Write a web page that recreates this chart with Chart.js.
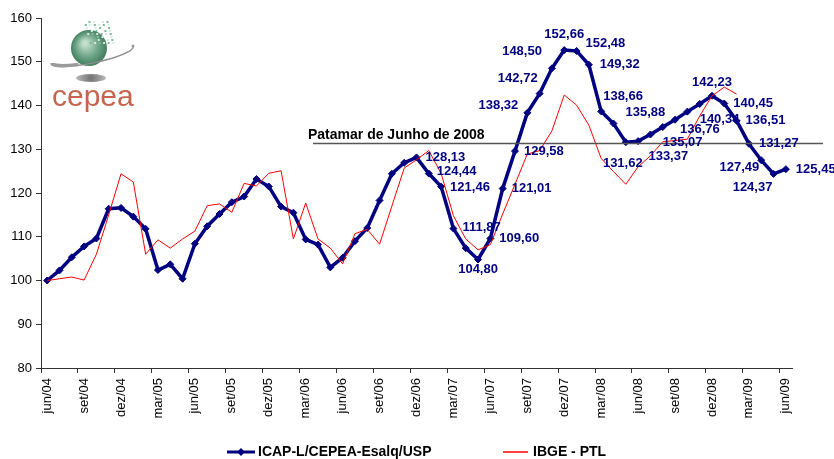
<!DOCTYPE html>
<html>
<head>
<meta charset="utf-8">
<script src="https://cdn.jsdelivr.net/npm/chart.js@4.4.1/dist/chart.umd.min.js"></script>
<style>
html, body { margin: 0; padding: 0; background: #fff; }
</style>
</head>
<body>
<canvas id="chartLeite" width="834" height="459"></canvas>
<script>
// meses jun/04 .. jun/09
var meses = [
	'jun/04', 'jul/04', 'ago/04', 'set/04', 'out/04', 'nov/04', 'dez/04', 'jan/05', 'fev/05', 'mar/05', 'abr/05', 'mai/05',
	'jun/05', 'jul/05', 'ago/05', 'set/05', 'out/05', 'nov/05', 'dez/05', 'jan/06', 'fev/06', 'mar/06', 'abr/06', 'mai/06',
	'jun/06', 'jul/06', 'ago/06', 'set/06', 'out/06', 'nov/06', 'dez/06', 'jan/07', 'fev/07', 'mar/07', 'abr/07', 'mai/07',
	'jun/07', 'jul/07', 'ago/07', 'set/07', 'out/07', 'nov/07', 'dez/07', 'jan/08', 'fev/08', 'mar/08', 'abr/08', 'mai/08',
	'jun/08', 'jul/08', 'ago/08', 'set/08', 'out/08', 'nov/08', 'dez/08', 'jan/09', 'fev/09', 'mar/09', 'abr/09', 'mai/09',
	'jun/09'
];

var icap = [
	100.00, 102.30, 105.30, 107.80, 109.60, 116.40, 116.60, 114.60, 111.80, 102.40, 103.70, 100.40,
	108.40, 112.40, 115.20, 117.90, 119.20, 123.20, 121.50, 116.90, 115.50, 109.40, 108.20, 103.00,
	105.20, 109.00, 112.00, 118.30, 124.40, 126.90, 128.13, 124.44, 121.46, 111.87, 107.40, 104.80,
	109.60, 121.01, 129.58, 138.32, 142.72, 148.50, 152.66, 152.48, 149.32, 138.66, 135.88, 131.62,
	131.85, 133.37, 135.07, 136.76, 138.60, 140.34, 142.23, 140.45, 136.51, 131.27, 127.49, 124.37,
	125.45
];

var ibge = [
	100.0, 100.4, 100.8, 100.1, 106.0, 115.0, 124.4, 122.5, 106.0, 109.3, 107.4, 109.5,
	111.3, 117.1, 117.5, 115.6, 122.2, 121.6, 124.5, 125.1, 109.5, 117.7, 109.5, 107.4,
	103.8, 110.7, 111.7, 108.3, 117.0, 125.7, 127.6, 129.7, 124.5, 114.8, 109.5, 107.0,
	108.2, 115.2, 122.0, 128.9, 129.7, 134.2, 142.4, 140.1, 135.5, 127.9, 124.9, 122.0,
	126.0, 128.5, 131.7, 132.0, 132.3, 137.6, 142.2, 144.2, 142.6, null, null, null,
	null
];

var yTicks = [80, 90, 100, 110, 120, 130, 140, 150, 160];
var patamar = 131.3;
var patamarTexto = 'Patamar de Junho de 2008';

// indices com rotulo e onde o texto fica em relacao ao ponto
var rotulos = {
	30: ['left', 9, 0], 31: ['left', 8, -2], 32: ['left', 9, 1], 33: ['left', 9, -1],
	35: ['center', 0, 10], 36: ['left', 9, 0], 37: ['left', 9, 0], 38: ['left', 9, 0],
	39: ['right', -9, -7], 40: ['right', -2, -15], 41: ['right', -10, -17], 42: ['center', 0, -16],
	43: ['left', 9, -7], 44: ['left', 11, 0], 45: ['left', 2, -15], 46: ['left', 12, -11],
	47: ['center', -3, 21], 49: ['left', -2, 22], 50: ['left', 0, 15], 51: ['left', 5, 10],
	53: ['left', 0, 15], 54: ['center', 0, -13], 55: ['left', 9, 0], 56: ['left', 9, 0],
	57: ['left', 10, 0], 58: ['right', -2, 7], 59: ['center', -21, 14], 60: ['left', 10, 0]
};

var NAVY = '#000080';
var FONT = "'Liberation Sans', Arial, sans-serif";

Chart.defaults.font.family = FONT;

var logoPlugin = {
	id: 'logo',
	afterDraw: function (chart) {
		var c = chart.ctx;
		c.save();
		// bolinha verde
		var g = c.createRadialGradient(85, 43, 2, 89, 48, 19);
		g.addColorStop(0, '#c4e0cc');
		g.addColorStop(0.55, '#6da487');
		g.addColorStop(1, '#3b7a58');
		c.fillStyle = g;
		c.beginPath();
		c.arc(89, 48, 18, 0, Math.PI * 2);
		c.fill();
		// pixels
		for (var i = 0; i < 8; i++) {
			for (var j = 0; j < 6; j++) {
				if ((i * j + i + 2 * j) % 3 === 0) continue;
				c.fillStyle = (i + j) % 2 ? '#7fb898' : '#d7ebde';
				c.fillRect(84 + j * 4.5 + i * 0.8, 21 + i * 3, 2, 2);
			}
		}
		// anel
		c.strokeStyle = '#8c8c8c';
		c.lineWidth = 1.4;
		c.beginPath();
		c.ellipse(92, 55, 42, 8, -0.2, 0, Math.PI);
		c.stroke();
		c.lineWidth = 3.5;
		c.strokeStyle = '#9a9a9a';
		c.beginPath();
		c.ellipse(92, 55, 41, 7, -0.2, 0.62 * Math.PI, Math.PI);
		c.stroke();
		c.fillStyle = '#999';
		c.beginPath();
		c.arc(133, 46, 1.5, 0, Math.PI * 2);
		c.fill();
		// sombra
		var s = c.createRadialGradient(91, 78, 1, 91, 78, 15);
		s.addColorStop(0, '#777');
		s.addColorStop(1, '#bbb');
		c.fillStyle = s;
		c.beginPath();
		c.ellipse(91, 78, 15, 4, 0, 0, Math.PI * 2);
		c.fill();
		// texto
		c.fillStyle = '#c6654f';
		c.font = '30px ' + FONT;
		c.textBaseline = 'alphabetic';
		c.textAlign = 'left';
		c.fillText('cepea', 52, 106, 83);
		c.restore();
	}
};

var patamarPlugin = {
	id: 'patamar',
	afterDatasetsDraw: function (chart) {
		var c = chart.ctx;
		var y = chart.scales.y.getPixelForValue(patamar);
		c.save();
		c.strokeStyle = '#555';
		c.lineWidth = 1.5;
		c.beginPath();
		c.moveTo(313, y);
		c.lineTo(823, y);
		c.stroke();
		c.fillStyle = '#000';
		c.font = 'bold 14px ' + FONT;
		c.textAlign = 'left';
		c.textBaseline = 'bottom';
		c.fillText(patamarTexto, 308, y - 1);
		c.restore();
	}
};

var rotuloPlugin = {
	id: 'rotulos',
	afterDatasetsDraw: function (chart) {
		var c = chart.ctx;
		var meta = chart.getDatasetMeta(0);
		c.save();
		c.fillStyle = NAVY;
		c.font = 'bold 13px ' + FONT;
		c.textBaseline = 'middle';
		Object.keys(rotulos).forEach(function (k) {
			var i = +k;
			var p = meta.data[i];
			var r = rotulos[k];
			c.textAlign = r[0];
			c.fillText(icap[i].toFixed(2).replace('.', ','), p.x + r[1], p.y + r[2]);
		});
		c.restore();
	}
};

var legendaPlugin = {
	id: 'legenda',
	afterDraw: function (chart) {
		var c = chart.ctx;
		var y = 452;
		c.save();
		c.font = 'bold 14px ' + FONT;
		c.textBaseline = 'middle';
		c.textAlign = 'left';
		// ICAP
		c.strokeStyle = NAVY;
		c.lineWidth = 3;
		c.beginPath();
		c.moveTo(227, y);
		c.lineTo(255, y);
		c.stroke();
		c.fillStyle = NAVY;
		c.beginPath();
		c.moveTo(241, y - 4);
		c.lineTo(245, y);
		c.lineTo(241, y + 4);
		c.lineTo(237, y);
		c.closePath();
		c.fill();
		c.fillStyle = '#000';
		c.fillText(chart.data.datasets[0].label, 258, y);
		// IBGE
		c.strokeStyle = '#ff0000';
		c.lineWidth = 1.5;
		c.beginPath();
		c.moveTo(503, y);
		c.lineTo(528, y);
		c.stroke();
		c.fillText(chart.data.datasets[1].label, 533, y);
		c.restore();
	}
};

var ctx = document.getElementById('chartLeite').getContext('2d');
var chart = new Chart(ctx, {
	type: 'line',
	data: {
		labels: meses,
		datasets: [{
			label: 'ICAP-L/CEPEA-Esalq/USP',
			data: icap,
			borderColor: NAVY,
			backgroundColor: NAVY,
			borderWidth: 3.5,
			pointStyle: 'rectRot',
			pointRadius: 3.5,
			pointBorderWidth: 1,
			tension: 0,
			order: 1
		}, {
			label: 'IBGE - PTL',
			data: ibge,
			borderColor: '#ff0000',
			backgroundColor: '#ff0000',
			borderWidth: 1,
			pointRadius: 0,
			tension: 0,
			spanGaps: false,
			order: 0
		}]
	},
	options: {
		responsive: false,
		animation: false,
		devicePixelRatio: 1,
		layout: { padding: { top: 18, right: 42, left: 0, bottom: 0 } },
		plugins: {
			legend: { display: false },
			tooltip: { enabled: false }
		},
		scales: {
			x: {
				offset: true,
				grid: {
					offset: true,
					drawOnChartArea: false,
					drawTicks: true,
					tickLength: 5,
					color: function (c) { return c.index % 3 === 0 ? '#333' : 'rgba(0,0,0,0)'; }
				},
				border: { color: '#333', width: 1 },
				ticks: {
					autoSkip: false,
					minRotation: 90,
					maxRotation: 90,
					padding: 5,
					color: '#000',
					font: { size: 13 },
					callback: function (v, i) { return i % 3 === 0 ? meses[i] : ''; }
				},
				afterFit: function (s) { s.height = 91; }
			},
			y: {
				min: yTicks[0],
				max: yTicks[yTicks.length - 1],
				afterBuildTicks: function (s) { s.ticks = yTicks.map(function (v) { return { value: v }; }); },
				grid: { drawOnChartArea: false, tickLength: 5, color: '#333' },
				border: { color: '#333', width: 1 },
				ticks: { padding: 4, color: '#000', font: { size: 13 } },
				afterFit: function (s) { s.width = 41; }
			}
		}
	},
	plugins: [logoPlugin, patamarPlugin, rotuloPlugin, legendaPlugin]
});
</script>
</body>
</html>
